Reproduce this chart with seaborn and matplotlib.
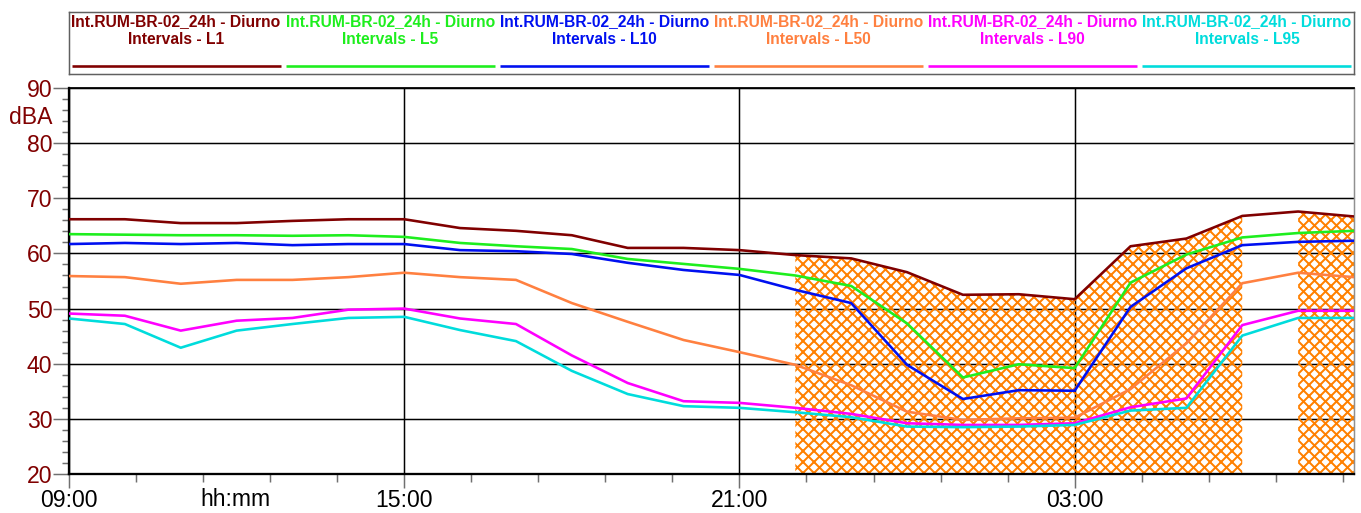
import numpy as np
import pandas as pd
import matplotlib
matplotlib.use("Agg")
import matplotlib.pyplot as plt
from matplotlib.ticker import MultipleLocator
import seaborn as sns

# ---------------- data ----------------
times = ["09:00", "10:00", "11:00", "12:00", "13:00", "14:00", "15:00", "16:00",
         "17:00", "18:00", "19:00", "20:00", "21:00", "22:00", "23:00", "00:00",
         "01:00", "02:00", "03:00", "04:00", "05:00", "06:00", "07:00", "08:00"]
L1 = [66.2, 66.2, 65.5, 65.5, 65.9, 66.2, 66.2, 64.6, 64.1, 63.3, 61.0, 61.0,
      60.6, 59.7, 59.1, 56.6, 52.5, 52.6, 51.7, 61.3, 62.7, 66.8, 67.6, 66.7]
L5 = [63.5, 63.4, 63.3, 63.3, 63.2, 63.3, 63.0, 61.9, 61.3, 60.8, 59.0, 58.1,
      57.2, 56.0, 54.1, 47.3, 37.5, 39.9, 39.2, 54.7, 59.8, 62.9, 63.7, 64.1]
L10 = [61.7, 61.9, 61.7, 61.9, 61.5, 61.7, 61.7, 60.6, 60.4, 59.9, 58.3, 57.0,
       56.1, 53.4, 51.0, 39.8, 33.6, 35.2, 35.1, 50.3, 57.3, 61.5, 62.1, 62.3]
L50 = [55.9, 55.7, 54.5, 55.2, 55.2, 55.7, 56.5, 55.7, 55.2, 51.0, 47.6, 44.3,
       42.1, 39.8, 36.1, 31.3, 29.8, 30.1, 30.2, 35.4, 43.7, 54.6, 56.5, 55.7]
L90 = [49.1, 48.7, 46.0, 47.8, 48.3, 49.8, 50.0, 48.2, 47.2, 41.5, 36.5, 33.2,
       32.9, 32.0, 30.9, 29.2, 28.9, 28.9, 29.2, 32.1, 33.7, 47.0, 49.6, 49.6]
L95 = [48.2, 47.2, 42.9, 46.0, 47.2, 48.3, 48.5, 46.1, 44.1, 38.7, 34.5, 32.3,
       32.0, 31.2, 30.3, 28.6, 28.5, 28.6, 28.9, 31.5, 32.0, 45.1, 48.3, 48.3]

series_names = ["L1", "L5", "L10", "L50", "L90", "L95"]
series_values = [L1, L5, L10, L50, L90, L95]
legend_prefix = "Int.RUM-BR-02_24h - Diurno"
x_tick_labels = ["09:00", "15:00", "21:00", "03:00"]
shaded_periods = [("22:00", "06:00"), ("07:00", "08:00")]
y_unit = "dBA"
x_unit = "hh:mm"

# ---------------- style ----------------
colors = ["#800000", "#1EEE1E", "#0010F0", "#FF8040", "#FF00FF", "#00DCDC"]
hatch_color = "#FF8000"
label_red = "#800000"
W, H, DPI = 1361, 513, 132
px = 72.0 / DPI  # points per pixel

sns.set_style("white")
plt.rcParams["font.family"] = ["Liberation Sans", "DejaVu Sans"]
plt.rcParams["hatch.color"] = hatch_color
plt.rcParams["hatch.linewidth"] = 2.0 * px


def elapsed(t):
    h, m = map(int, t.split(":"))
    return ((h - 9) % 24) + m / 60.0


xs = np.array([elapsed(t) for t in times])
df = pd.DataFrame({
    "t": np.concatenate([xs] * len(series_names)),
    "v": np.concatenate([np.array(v) for v in series_values]),
    "s": np.repeat(series_names, len(xs)),
})

fig = plt.figure(figsize=(W / DPI, H / DPI), dpi=DPI)
ax = fig.add_axes([69 / W, 1 - 474 / H, (1354 - 69) / W, (474 - 88) / H])

# hatched periods (under L1)
L1a = np.array(L1)
for a, b in shaded_periods:
    m = (xs >= elapsed(a)) & (xs <= elapsed(b))
    ax.fill_between(xs[m], 20, L1a[m], facecolor="none", edgecolor=hatch_color,
                    hatch="xxxx", linewidth=0, zorder=1.5)

sns.lineplot(data=df, x="t", y="v", hue="s", hue_order=series_names,
             palette=colors, linewidth=2.6 * px, legend=False, ax=ax,
             estimator=None, errorbar=None, sort=False, zorder=3)

ax.set_xlim(0, 23)
ax.set_ylim(20, 90)
ax.set_xticks([elapsed(t) for t in x_tick_labels])
ax.set_xticklabels(x_tick_labels)
ax.xaxis.set_minor_locator(MultipleLocator(1.2))
ax.yaxis.set_major_locator(MultipleLocator(10))
ax.yaxis.set_minor_locator(MultipleLocator(2))
ax.set_xlabel("")
ax.set_ylabel("")

ax.set_axisbelow(True)
ax.grid(which="major", color="black", linewidth=1.5 * px)

fs = 23.0 * px
ax.tick_params(axis="y", which="major", length=16 * px, width=1.5 * px,
               color="#707070", labelcolor=label_red, labelsize=fs, pad=0.3,
               left=True)
ax.tick_params(axis="y", which="minor", length=7 * px, width=1.5 * px,
               color="#707070", left=True)
ax.tick_params(axis="x", which="major", length=14 * px, width=1.5 * px,
               color="#707070", labelcolor="black", labelsize=fs, pad=0.3,
               bottom=True)
ax.tick_params(axis="x", which="minor", length=8 * px, width=1.5 * px,
               color="#707070", bottom=True)

for side in ["left", "bottom"]:
    ax.spines[side].set_color("black")
    ax.spines[side].set_linewidth(2.3 * px)
ax.spines["top"].set_color("black")
ax.spines["top"].set_linewidth(1.8 * px)
ax.spines["right"].set_color("#909090")
ax.spines["right"].set_linewidth(1.5 * px)

fig.text(53 / W, 1 - 118 / H, y_unit, ha="right", va="center",
         color=label_red, fontsize=fs)
fig.text(235 / W, 1 - 499 / H, x_unit, ha="center", va="center",
         color="black", fontsize=fs)

# ---------------- legend box ----------------
lax = fig.add_axes([69 / W, 1 - 74 / H, (1354 - 69) / W, 62 / H])
lax.set_xlim(0, len(series_names))
lax.set_ylim(0, 1)
lax.set_xticks([])
lax.set_yticks([])
for sp in lax.spines.values():
    sp.set_color("#606060")
    sp.set_linewidth(1.5 * px)
lfs = 15.6 * px
for k, (name, c) in enumerate(zip(series_names, colors)):
    lax.text(k + 0.5, 0.78, legend_prefix, ha="center", va="baseline",
             color=c, fontsize=lfs, fontweight="bold")
    lax.text(k + 0.5, 0.48, f"Intervals - {name}", ha="center", va="baseline",
             color=c, fontsize=lfs, fontweight="bold")
    lax.plot([k + 0.012, k + 0.988], [0.134, 0.134], color=c,
             linewidth=2.6 * px, solid_capstyle="butt")

fig.savefig("out.png", dpi=DPI)
